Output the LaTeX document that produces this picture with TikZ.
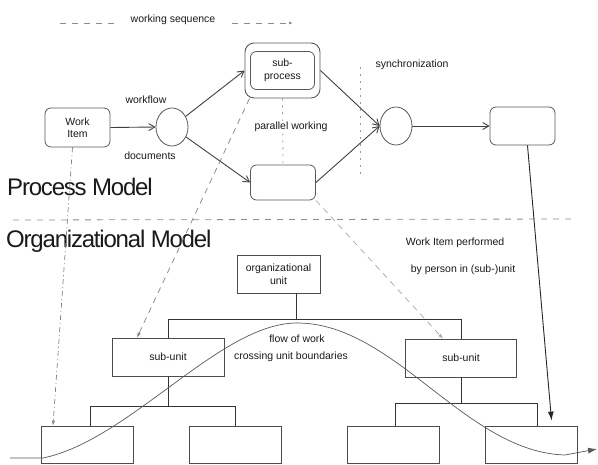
\documentclass[tikz,border=0pt]{standalone}
\usepackage{fontspec}
\setmainfont{Liberation Sans}
\newfontfamily\bigfont[LetterSpace=-5]{Liberation Sans}
\usetikzlibrary{shapes.geometric,arrows.meta}
\begin{document}
\begin{tikzpicture}[x=1pt,y=-1pt,
  txt/.style={text=black!90, inner sep=1pt, font=\fontsize{10.5}{12.5}\selectfont},
  big/.style={text=black!90, inner sep=0pt, font=\bigfont\fontsize{24}{26}\selectfont},
  rbox/.style={draw=black!65, line width=0.8pt, rounded corners=6pt, inner sep=0pt, align=center, text=black!90, font=\fontsize{10.5}{12.5}\selectfont},
  sbox/.style={draw=black!70, line width=0.8pt, inner sep=0pt, align=center, minimum height=38pt, text=black!90, font=\fontsize{10.5}{12.5}\selectfont},
  circ/.style={draw=black!65, line width=0.8pt, ellipse, minimum width=32pt, minimum height=38pt, inner sep=0pt},
  flow/.style={draw=black!75, line width=0.9pt, -{Straight Barb[length=6pt,width=7pt]}},
  tree/.style={draw=black!80, line width=0.8pt},
  dsh/.style={draw=black!50, line width=0.7pt, dash pattern=on 6pt off 5pt, -{Latex[length=5pt,width=3.5pt]}},
  dshlight/.style={draw=black!35, line width=0.7pt, dash pattern=on 6pt off 5pt, -{Latex[length=5pt,width=3.5pt]}},
  dashdot/.style={draw=black!50, line width=0.7pt, dash pattern=on 5pt off 3pt on 1pt off 3pt, -{Latex[length=5pt,width=3.5pt]}},
  sep/.style={draw=black!45, line width=0.8pt, dash pattern=on 6pt off 6pt},
  dots/.style={draw=black!40, line width=0.8pt, dash pattern=on 2pt off 5pt}
]
\useasboundingbox (0,0) rectangle (598,464);

% working sequence legend
\coordinate (ws0) at (60,23);
\coordinate (ws1) at (293,23);
\node[txt, inner xsep=16pt] (wsl) at (173,20) {working sequence};
\draw[sep] (ws0) -- (ws0 -| wsl.west);
\draw[sep, -{Latex[length=4pt,width=3pt]}] (ws1 -| wsl.east) -- (ws1);

% process model
\node[rbox, minimum width=65pt, minimum height=39pt] (wi) at (77.5,127.5) {Work\\Item};
\node[circ] (c1) at (172,127) {};
\node[rbox, minimum width=75pt, minimum height=55pt, rounded corners=9pt, line width=0.9pt] (sp) at (282.5,70.5) {};
\node[rbox, minimum width=64pt, minimum height=38pt] (spi) at (sp.center) {sub-\\process};
\node[rbox, minimum width=65pt, minimum height=35pt] (lb) at (283,182.5) {};
\node[circ] (c2) at (396,126) {};
\node[rbox, minimum width=65pt, minimum height=38pt] (rb) at (522.5,126) {};

\draw[dots] (sp.south) -- (lb.north);
\coordinate (sy0) at (360,67);
\coordinate (sy1) at (360,177);
\draw[dots] (sy0) -- (sy1);

\node[txt] (wf) at (146,100) {workflow};
\node[txt] (doc) at (150,156) {documents};
\node[txt, fill=white, inner sep=1pt] (pw) at (291,127) {parallel working};
\node[txt] (sync) at (412,65) {synchronization};

\draw[flow] (wi.east) -- (c1.west);
\draw[flow] (c1) -- (sp.west);
\draw[flow] (c1) -- (lb.west);
\draw[flow] (sp.east) -- (c2.west);
\draw[flow] (lb.east) -- (c2.west);
\draw[flow] (c2.east) -- (rb.west);

\node[big, anchor=west] (pm) at (7,187) {Process Model};

% separator
\coordinate (s0) at (13,220);
\coordinate (s1) at (576,219);
\draw[sep] (s0) -- (s1);

\node[big, anchor=west] (om) at (6,241) {Organizational Model};

% organizational model
\node[sbox, minimum width=83pt] (ou) at (278.5,274) {organizational\\unit};
\node[sbox, minimum width=112pt] (su1) at (168,357) {sub-unit};
\node[sbox, minimum width=111pt] (su2) at (461,358) {sub-unit};
\node[sbox, minimum width=92pt, minimum height=37pt] (b1) at (87,444.5) {};
\node[sbox, minimum width=92pt, minimum height=37pt] (b2) at (235,444.5) {};
\node[sbox, minimum width=92pt, minimum height=37pt] (b3) at (393,444.5) {};
\node[sbox, minimum width=92pt, minimum height=37pt] (b4) at (531,444.5) {};

\draw[tree] ([xshift=17.5pt]ou.south) -- ++(0,26) coordinate (j0);
\draw[tree] (su1.north) |- (j0) -| (su2.north);
\draw[tree] (su1.south) -- ++(0,30) coordinate (j1);
\draw[tree] ([xshift=3pt]b1.north) |- (j1) -| (b2.north);
\draw[tree] (su2.south) -- ++(0,26) coordinate (j2);
\draw[tree] ([xshift=2pt]b3.north) |- (j2) -| ([xshift=6pt]b4.north);

\node[txt] (wip1) at (455,243) {Work Item performed};
\node[txt] (wip2) at (463,270) {by person in (sub-)unit};
\node[txt] (fw1) at (297,339) {flow of work};
\node[txt] (fw2) at (291,357) {crossing unit boundaries};

% mapping lines
\draw[dashdot] ([xshift=-5pt]wi.south) -- ([xshift=-34pt]b1.north);
\draw[dsh] ([xshift=5pt]sp.south west) -- ([xshift=-31pt]su1.north);
\draw[dshlight] (lb.south east) -- ([xshift=-18pt]su2.north);
\draw[draw=black!85, line width=0.9pt, shorten >=5pt, -{Latex[length=9pt,width=6pt]}] ([xshift=5pt]rb.south) -- ([xshift=21pt]b4.north);

% flow of work curve
\coordinate (f0) at (10,458);
\coordinate (f1) at (43,458);
\coordinate (fp) at (297,323);
\coordinate (f2) at (565,455);
\coordinate (f3) at (597,449);
\draw[draw=black!65, line width=0.7pt, -{Latex[length=9pt,width=6pt]}]
  (f0) -- (f1) .. controls (130,440) and (220,323) .. (fp)
  .. controls (395,323) and (465,452) .. (f2) -- (f3);
\end{tikzpicture}
\end{document}
